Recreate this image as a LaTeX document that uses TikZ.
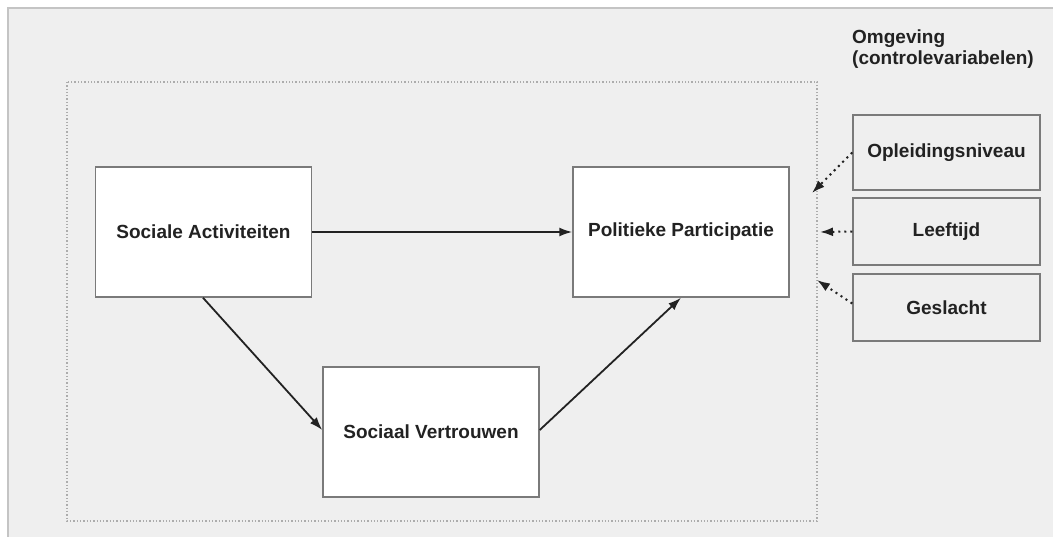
\documentclass[tikz,border=0pt]{standalone}
\usepackage{fontspec}
\setmainfont{Liberation Sans}
\usetikzlibrary{arrows.meta}
\definecolor{bgc}{HTML}{EFEFEF}
\definecolor{framec}{HTML}{C4C4C4}
\definecolor{boxc}{HTML}{7A7A7A}
\definecolor{dotc}{HTML}{ACACAC}
\definecolor{txtc}{HTML}{222222}
\tikzset{
  mainbox/.style={draw=boxc, line width=1.5pt, fill=white, minimum width=216pt, minimum height=130pt, inner sep=0pt,
    font=\fontsize{19}{21}\selectfont\bfseries, text=txtc},
  sidebox/.style={draw=boxc, line width=1.5pt, fill=bgc, minimum width=187pt, inner sep=0pt,
    font=\fontsize{19}{21}\selectfont\bfseries, text=txtc},
  solidarrow/.style={draw=txtc, line width=1.8pt, -{Latex[length=13pt,width=9pt]}},
  dotarrow/.style={draw=txtc, line width=2pt, dash pattern=on 2pt off 4pt, -{Latex[length=13pt,width=9pt]}}
}
\begin{document}
\begin{tikzpicture}[x=1pt,y=-1pt]
\useasboundingbox (0,0) rectangle (1053,537);
\fill[white] (0,0) rectangle (1053,537);
\fill[bgc] (8,8) rectangle (1053,537);
\draw[framec, line width=2pt] (8,537) -- (8,8) -- (1053,8);
\draw[dotc, line width=1.3pt, dotted] (67,82) rectangle (817,521);

\node[mainbox] (sa) at (203.5,232) {Sociale Activiteiten};
\node[mainbox] (pp) at (681,232) {Politieke Participatie};
\node[mainbox] (sv) at (431,432) {Sociaal Vertrouwen};

\node[sidebox, minimum height=75pt] (op) at (946.5,152.5) {Opleidingsniveau};
\node[sidebox, minimum height=67pt] (lt) at (946.5,231.5) {Leeftijd};
\node[sidebox, minimum height=67pt] (gs) at (946.5,307.5) {Geslacht};

\node[anchor=north west, align=left, inner sep=0pt, font=\fontsize{19}{21}\selectfont\bfseries, text=txtc] (om) at (852,30) {Omgeving\\(controlevariabelen)};

\coordinate (opend) at (812,193);
\coordinate (ltend) at (820,232);
\coordinate (gsend) at (817,280);

\draw[solidarrow] (sa.east) -- (pp.west);
\draw[solidarrow] (sa.south) ++(-0.5,0) -- (sv.west |- 0,430);
\draw[solidarrow] (sv.east |- 0,430) -- (pp.south);

\draw[dotarrow] (op.west) -- (opend);
\draw[dotarrow] (lt.west) -- (ltend);
\draw[dotarrow] (gs.west) ++(0,-4) -- (gsend);
\end{tikzpicture}
\end{document}
